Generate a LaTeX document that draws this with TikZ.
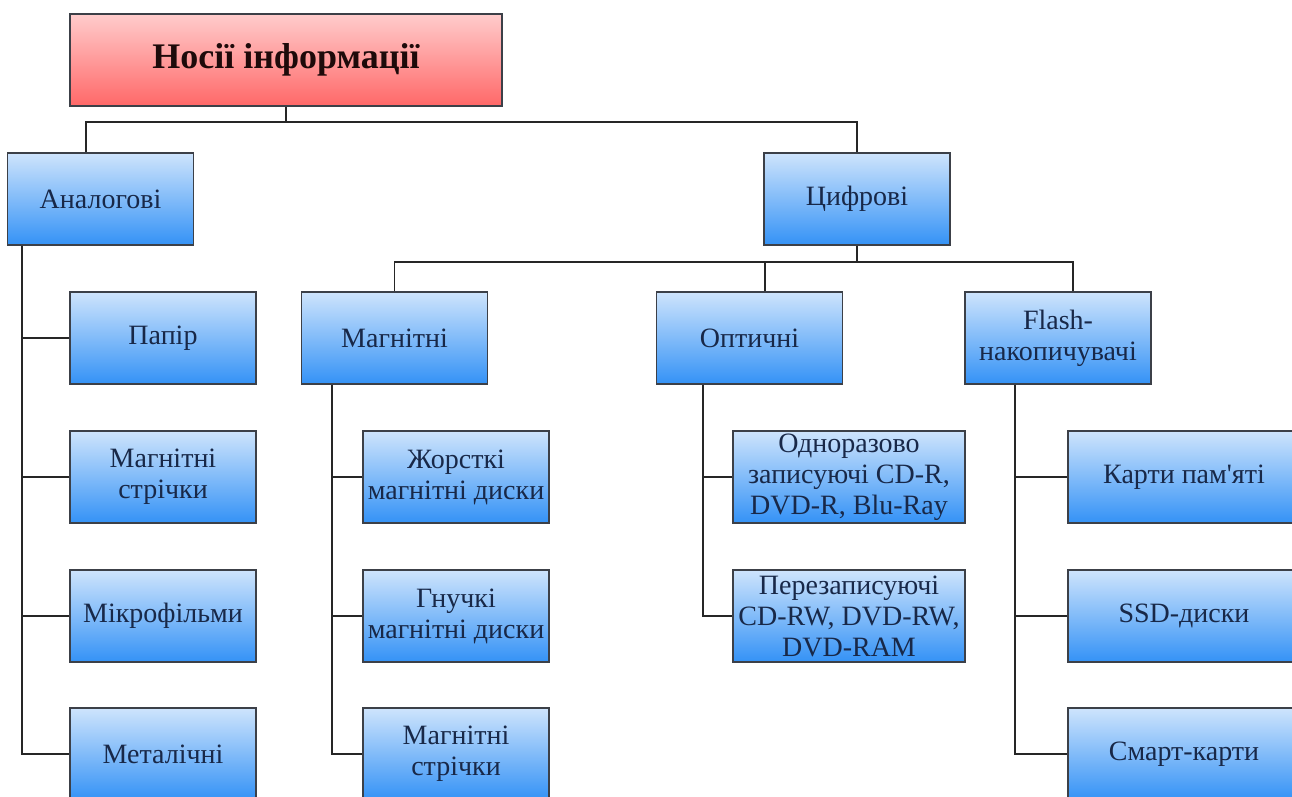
\documentclass[tikz,border=0pt]{standalone}
\usepackage{fontspec}
\setmainfont{Liberation Serif}
\newfontfamily\rawserif{Liberation Serif}[Ligatures=ResetAll]
\usetikzlibrary{calc}
\definecolor{bluetop}{RGB}{206,228,252}
\definecolor{bluebot}{RGB}{52,146,246}
\definecolor{redtop}{RGB}{255,204,204}
\definecolor{redbot}{RGB}{255,104,104}
\definecolor{edgegray}{RGB}{60,64,72}
\definecolor{navytext}{RGB}{24,40,72}
\definecolor{roottext}{RGB}{30,10,10}
\tikzset{
  bluebox/.style={draw=edgegray, line width=1.3pt, top color=bluetop, bottom color=bluebot,
    minimum width=186pt, minimum height=92pt, inner sep=1pt, align=center,
    text=navytext, font=\fontsize{28}{31}\selectfont},
  widebox/.style={bluebox, minimum width=232pt},
  rootbox/.style={draw=edgegray, line width=1.3pt, top color=redtop, bottom color=redbot,
    minimum width=432pt, minimum height=92pt, align=center,
    text=roottext, font=\fontsize{36}{40}\selectfont\bfseries},
  conn/.style={line width=1.5pt, draw=black!85}
}
\begin{document}
\begin{tikzpicture}[x=1pt,y=-1pt]
\useasboundingbox[fill=white] (0,0) rectangle (1292,796);
% nodes
\node[rootbox] (root) at (286,60) {Носії інформації};
\node[bluebox] (analog) at (100.5,199) {Аналогові};
\node[bluebox] (digital) at (857,199) {Цифрові};
% analog children
\node[bluebox] (paper) at (163,338) {Папір};
\node[bluebox] (tape1) at (163,477) {Магнітні\\стрічки};
\node[bluebox] (micro) at (163,616) {Мікрофільми};
\node[bluebox] (metal) at (163,754) {Металічні};
% digital children
\node[bluebox] (magn) at (394.5,338) {Магнітні};
\node[bluebox] (opt) at (749.5,338) {Оптичні};
\node[bluebox] (flash) at (1058,338) {Flash-\\накопичувачі};
% magnetic children
\node[bluebox] (hdd) at (456,477) {Жорсткі\\магнітні диски};
\node[bluebox] (fdd) at (456,616) {Гнучкі\\магнітні диски};
\node[bluebox] (tape2) at (456,754) {Магнітні\\стрічки};
% optical children
\node[widebox] (cdr) at (849,477) {Одноразово\\записуючі CD-R,\\DVD-R, Blu-Ray};
\node[widebox] (cdrw) at (849,616) {Перезаписуючі\\CD-RW, DVD-RW,\\DVD-RAM};
% flash children
\node[widebox] (card) at (1184,477) {{\rawserif Карти пам'яті}};
\node[widebox] (ssd) at (1184,616) {SSD-диски};
\node[widebox] (smart) at (1184,754) {Смарт-карти};
% connectors: level 1
\coordinate (j1) at (286,122);
\draw[conn] (root.south) -- (j1);
\draw[conn] ([xshift=-14.5pt]analog.north) |- (j1);
\draw[conn] (digital.north) |- (j1);
% analog trunk
\coordinate (ta) at ([xshift=-78.5pt]analog.south);
\draw[conn] (ta) |- (metal.west);
\draw[conn] (paper.west) -- (paper.west -| ta);
\draw[conn] (tape1.west) -- (tape1.west -| ta);
\draw[conn] (micro.west) -- (micro.west -| ta);
% digital level
\coordinate (j2) at (857,262);
\draw[conn] (digital.south) -- (j2);
\draw[conn] (magn.north) |- (j2);
\draw[conn] ([xshift=15.5pt]opt.north) |- (j2);
\draw[conn] ([xshift=15pt]flash.north) |- (j2);
% magnetic trunk
\coordinate (tm) at ([xshift=-62.5pt]magn.south);
\draw[conn] (tm) |- (tape2.west);
\draw[conn] (hdd.west) -- (hdd.west -| tm);
\draw[conn] (fdd.west) -- (fdd.west -| tm);
% optical trunk
\coordinate (to) at ([xshift=-46.5pt]opt.south);
\draw[conn] (to) |- (cdrw.west);
\draw[conn] (cdr.west) -- (cdr.west -| to);
% flash trunk
\coordinate (tf) at ([xshift=-43pt]flash.south);
\draw[conn] (tf) |- (smart.west);
\draw[conn] (card.west) -- (card.west -| tf);
\draw[conn] (ssd.west) -- (ssd.west -| tf);
\end{tikzpicture}
\end{document}
